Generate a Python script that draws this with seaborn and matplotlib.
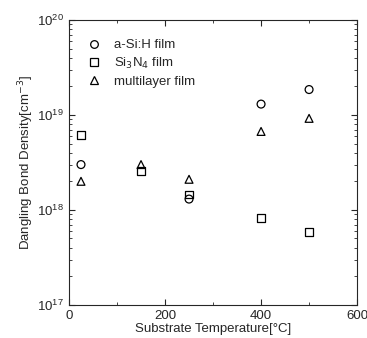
import matplotlib
matplotlib.use("Agg")
import matplotlib.pyplot as plt
import seaborn as sns
import pandas as pd
from matplotlib.ticker import MultipleLocator, LogLocator, NullFormatter

sns.set_style("ticks")
plt.rcParams['font.family'] = ['Liberation Sans', 'DejaVu Sans']

# values
asih_temp = [25, 250, 400, 500]
asih_dens = [3.0e18, 1.3e18, 1.3e19, 1.85e19]
sin_temp = [25, 150, 250, 400, 500]
sin_dens = [6.2e18, 2.55e18, 1.45e18, 8.3e17, 5.9e17]
multi_temp = [25, 150, 250, 400, 500]
multi_dens = [2.0e18, 3.0e18, 2.1e18, 6.7e18, 9.2e18]

series = ["a-Si:H film", "Si$_3$N$_4$ film", "multilayer film"]
df = pd.concat([
    pd.DataFrame({"T": asih_temp, "D": asih_dens, "film": series[0]}),
    pd.DataFrame({"T": sin_temp, "D": sin_dens, "film": series[1]}),
    pd.DataFrame({"T": multi_temp, "D": multi_dens, "film": series[2]}),
])

fig = plt.figure(figsize=(3.67, 3.38), dpi=100)
ax = fig.add_axes([0.188, 0.098, 0.785, 0.843])

sns.scatterplot(data=df, x="T", y="D", style="film", hue="film",
                markers={series[0]: "o", series[1]: "s", series[2]: "^"},
                palette={s: "black" for s in series},
                s=32, linewidth=0.9, ax=ax, legend=False)
for c in ax.collections:
    c.set_facecolor("none")
    c.set_edgecolor("black")

ax.set_yscale("log")
ax.set_xlim(0, 600)
ax.set_ylim(1e17, 1e20)
ax.xaxis.set_major_locator(MultipleLocator(200))
ax.xaxis.set_minor_locator(MultipleLocator(100))
ax.yaxis.set_major_locator(LogLocator(base=10))
ax.yaxis.set_minor_locator(LogLocator(base=10, subs=range(2, 10)))
ax.yaxis.set_minor_formatter(NullFormatter())
ax.tick_params(which="both", direction="in", top=True, right=True, labelsize=9.5)
ax.tick_params(which="major", length=4)
ax.tick_params(which="minor", length=2)
ax.set_xlabel("Substrate Temperature[°C]", fontsize=9.5, labelpad=1)
ax.set_ylabel("Dangling Bond Density[cm$^{-3}$]", fontsize=9.5, labelpad=1)

handles = [plt.Line2D([], [], linestyle="none", marker=m, markersize=5.5,
                      markerfacecolor="none", markeredgecolor="black",
                      markeredgewidth=0.9)
           for m in ["o", "s", "^"]]
ax.legend(handles, series, loc="upper left", frameon=False, fontsize=9.5,
          bbox_to_anchor=(0.0, 0.975), handletextpad=0.5, labelspacing=0.35)

fig.savefig("out.png", dpi=100)
